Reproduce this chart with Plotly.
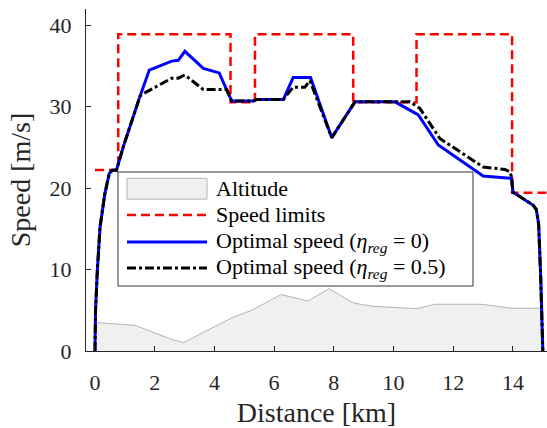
import plotly.graph_objects as go

# ---- data ----
alt_x = [0.0, 1.34, 2.59, 2.96, 4.58, 5.25, 6.23, 7.14, 7.84, 8.65, 9.27, 9.99, 10.77, 11.39, 12.95, 13.95, 15.0]
alt_y = [3.5, 3.16, 1.4, 1.03, 4.06, 5.0, 6.93, 6.14, 7.66, 5.9, 5.5, 5.33, 5.2, 5.74, 5.74, 5.25, 5.25]

limit_x = [0.0, 0.78, 0.78, 4.54, 4.54, 5.36, 5.36, 8.65, 8.65, 10.77, 10.77, 13.97, 13.97, 15.2]
limit_y = [22.22, 22.22, 38.89, 38.89, 30.56, 30.56, 38.89, 38.89, 30.56, 30.56, 38.89, 38.89, 19.44, 19.44]

opt0_x = [0.0, 0.02, 0.08, 0.17, 0.33, 0.48, 0.58, 0.72, 0.95, 1.34, 1.51, 1.82, 2.57, 2.79, 3.01, 3.63, 4.16,
          4.58, 5.30, 5.42, 6.31, 6.64, 7.22, 7.93, 8.71, 10.05, 10.83, 11.50, 13.00, 13.95, 14.00, 14.68,
          14.78, 14.86, 14.93, 15.0]
opt0_y = [0.0, 5.0, 9.9, 15.2, 19.3, 21.8, 22.2, 22.2, 25.1, 29.6, 31.3, 34.5, 35.6, 35.7, 36.8, 34.7, 34.15,
          30.7, 30.7, 30.9, 30.9, 33.6, 33.6, 26.2, 30.6, 30.6, 29.0, 25.3, 21.5, 21.2, 19.5, 17.9,
          17.4, 15.6, 9.0, 0.0]

opt05_x = [0.0, 0.02, 0.08, 0.17, 0.33, 0.48, 0.58, 0.72, 0.95, 1.34, 1.51, 1.62, 2.57, 2.79, 3.01, 3.63, 4.41,
           4.58, 5.30, 5.42, 6.31, 6.64, 7.03, 7.20, 7.93, 8.71, 10.55, 10.88, 11.55, 13.00, 13.73, 13.90,
           13.95, 14.00, 14.68, 14.78, 14.86, 14.93, 15.0]
opt05_y = [0.0, 5.0, 9.9, 15.2, 19.3, 21.8, 22.2, 22.2, 25.1, 29.6, 31.3, 31.6, 33.5, 33.5, 33.9, 32.1, 32.1,
           30.7, 30.7, 30.9, 30.9, 32.4, 32.4, 33.2, 26.2, 30.6, 30.6, 29.8, 26.1, 22.6, 22.3, 22.0,
           21.4, 19.5, 17.9, 17.4, 15.6, 9.0, 0.0]

x_ticks = [0, 2, 4, 6, 8, 10, 12, 14]
y_ticks = [0, 10, 20, 30, 40]

series_names = ["Altitude", "Speed limits",
                "Optimal speed (<i>η</i><sub><i>reg</i></sub> = 0)",
                "Optimal speed (<i>η</i><sub><i>reg</i></sub> = 0.5)"]

FONT = "Liberation Serif, Times New Roman, DejaVu Serif, serif"
AXC = "#262626"
ALT_FILL, ALT_LINE = "#f0f0f0", "#b4b4b4"
RED, RED_DASH = "#ff0000", "9px,5px"
BLUE = "#0000ff"
BLACK, BLACK_DASH = "#000000", "9px,3px,3px,3px"

fig = go.Figure()
fig.add_trace(go.Scatter(x=alt_x, y=alt_y, mode="lines", fill="tozeroy", fillcolor=ALT_FILL,
                         line=dict(color=ALT_LINE, width=1), name=series_names[0]))
fig.add_trace(go.Scatter(x=limit_x, y=limit_y, mode="lines",
                         line=dict(color=RED, width=2.5, dash=RED_DASH), name=series_names[1]))
fig.add_trace(go.Scatter(x=opt0_x, y=opt0_y, mode="lines",
                         line=dict(color=BLUE, width=3), name=series_names[2]))
fig.add_trace(go.Scatter(x=opt05_x, y=opt05_y, mode="lines",
                         line=dict(color=BLACK, width=3, dash=BLACK_DASH), name=series_names[3]))

# ---- legend box (drawn in paper coordinates, MATLAB-like layout) ----
box = dict(x0=0.0694, x1=0.8395, y0=0.190, y1=0.5234)
rows = [0.4737, 0.3977, 0.3187, 0.2427]
sw_x0, sw_x1, txt_x = 0.0889, 0.2625, 0.2777
shapes = [dict(type="rect", xref="paper", yref="paper", layer="above", fillcolor="white",
               line=dict(color="#333333", width=1), **box),
          dict(type="rect", xref="paper", yref="paper", layer="above", fillcolor=ALT_FILL,
               line=dict(color=ALT_LINE, width=1), x0=sw_x0, x1=sw_x1, y0=0.444, y1=0.505)]
legend_lines = [(RED, 2.5, RED_DASH), (BLUE, 3, "solid"), (BLACK, 3, BLACK_DASH)]
for (c, w, d), ry in zip(legend_lines, rows[1:]):
    shapes.append(dict(type="line", xref="paper", yref="paper", layer="above",
                       x0=sw_x0, x1=sw_x1, y0=ry, y1=ry, line=dict(color=c, width=w, dash=d)))
annotations = [dict(xref="paper", yref="paper", x=txt_x, y=ry, text=t, showarrow=False,
                    xanchor="left", yanchor="middle", font=dict(size=22, color="black", family=FONT))
               for t, ry in zip(series_names, rows)]

xr = [-0.30, 15.14]
fig.update_layout(
    width=547, height=428,
    margin=dict(l=86, r=0, t=9, b=77, pad=0, autoexpand=False),
    paper_bgcolor="white", plot_bgcolor="white",
    font=dict(family=FONT, color=AXC),
    showlegend=False,
    shapes=shapes, annotations=annotations,
    xaxis=dict(range=xr, autorange=False, tickvals=x_ticks, ticks="inside", ticklen=5, tickcolor=AXC,
               showline=True, linecolor=AXC, linewidth=1, mirror=False, showgrid=False, zeroline=False,
               automargin=False,
               tickfont=dict(size=22, color=AXC, family=FONT), ticklabelstandoff=12,
               title=dict(text="Distance [km]", font=dict(size=28, color=AXC, family=FONT), standoff=10)),
    xaxis2=dict(range=xr, autorange=False, overlaying="x", side="top", tickvals=x_ticks, ticks="inside",
                ticklen=5, tickcolor=AXC, showline=True, linecolor=AXC, linewidth=1, automargin=False,
                showticklabels=False, showgrid=False, zeroline=False),
    yaxis=dict(range=[0, 42], autorange=False, tickvals=y_ticks, ticks="inside", ticklen=5, tickcolor=AXC,
               showline=True, linecolor=AXC, linewidth=1, mirror=False, showgrid=False, zeroline=False,
               automargin=False,
               tickfont=dict(size=22, color=AXC, family=FONT), ticklabelstandoff=9,
               title=dict(text="Speed [m/s]", font=dict(size=28, color=AXC, family=FONT), standoff=10)),
)

fig.write_html("out.html", config={"displayModeBar": False, "staticPlot": True},
               post_script="document.body.style.margin='0';document.body.style.overflow='hidden';"
                           "document.documentElement.style.overflow='hidden';")
